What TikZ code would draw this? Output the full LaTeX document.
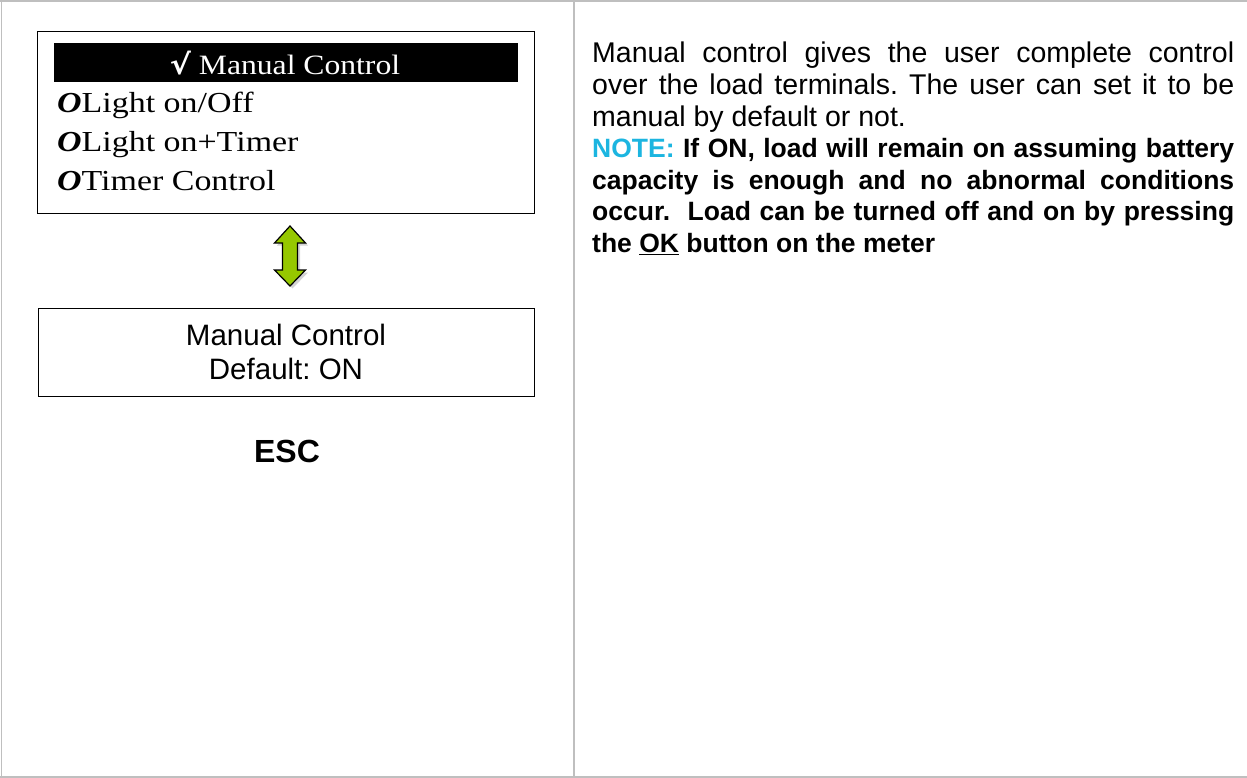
\documentclass[tikz,border=0pt]{standalone}
\usepackage{fontspec}
\usepackage{graphicx}
\setmainfont{Liberation Sans}
\newfontfamily\serifface{Liberation Serif}
\newfontfamily\chkface{DejaVu Sans}
\usetikzlibrary{shadows}
\definecolor{framegray}{HTML}{BFBFBF}
\definecolor{notecyan}{HTML}{1CB5E0}
\definecolor{arrowgreen}{HTML}{96C800}
\tikzset{
  frameline/.style={draw=framegray, line width=1.6pt},
  screenbox/.style={draw=black, line width=1.4pt, inner sep=0pt, anchor=north west},
  menuline/.style={anchor=base west, inner sep=0pt, font=\serifface\fontsize{29}{30}\selectfont},
  sanstext/.style={anchor=base, inner sep=0pt, font=\fontsize{29.5}{34}\selectfont},
  dblarrow/.style={draw=black, line width=1.2pt, fill=arrowgreen, line join=miter,
    drop shadow={opacity=0.35, shadow xshift=2.5pt, shadow yshift=-2.5pt}},
}
\begin{document}
\frenchspacing
\begin{tikzpicture}[x=1pt,y=-1pt]
\useasboundingbox (0,0) rectangle (1247,778);
% table frame
\draw[frameline] (0,1) -- (1247,1);
\draw[frameline] (0,777) -- (1247,777);
\draw[frameline] (1.5,1) -- (1.5,777);
\draw[frameline] (574,1) -- (574,777);
% top screen
\node[screenbox, minimum width=497pt, minimum height=182pt] (box1) at (37,31) {};
\node[fill=black, inner sep=0pt, minimum width=464pt, minimum height=39pt, anchor=north west] (bar) at (54,43) {};
\node[anchor=base, inner sep=0pt, text=white] (sel) at (285,75)
  {\scalebox{1.13}[1]{\serifface\fontsize{28}{30}\selectfont{\chkface\bfseries √} Manual Control}};
\node[menuline] (opt1) at (57,113) {\scalebox{1.17}[1]{\textbf{\textit{O}}Light on/Off}};
\node[menuline] (opt2) at (57,152) {\scalebox{1.17}[1]{\textbf{\textit{O}}Light on+Timer}};
\node[menuline] (opt3) at (57,190) {\scalebox{1.17}[1]{\textbf{\textit{O}}Timer Control}};
% double arrow
\coordinate (atop) at (290,226);
\coordinate (abot) at (290,286);
\draw[dblarrow] (atop) -- (305.5,243) -- (297.5,243) -- (297.5,270) -- (305.5,270) -- (abot)
  -- (274.5,270) -- (282.5,270) -- (282.5,243) -- (274.5,243) -- cycle;
% bottom screen
\node[screenbox, minimum width=496pt, minimum height=88pt] (box2) at (38,308) {};
\node[sanstext] (l1) at (286,345) {Manual Control};
\node[sanstext] (l2) at (286,379) {Default: ON};
\node[sanstext, font=\fontsize{32}{36}\selectfont\bfseries] (esc) at (287,462) {ESC};
% description
\node[anchor=base west, inner sep=0pt] (desc) at (592,63) {\parbox[t]{642pt}{%
  \fontsize{28.5}{31.6}\selectfont\parindent=0pt
  Manual control gives the user complete control\linebreak
  over the load terminals. The user can set it to be\linebreak
  manual by default or not.\par
  \fontsize{26.5}{31.6}\selectfont\bfseries
  {\color{notecyan}NOTE:} If ON, load will remain on assuming battery\linebreak
  capacity is enough and no abnormal conditions\linebreak
  occur.\ \ Load can be turned off and on by pressing\linebreak
  the \underline{OK} button on the meter}};
\end{tikzpicture}
\end{document}
